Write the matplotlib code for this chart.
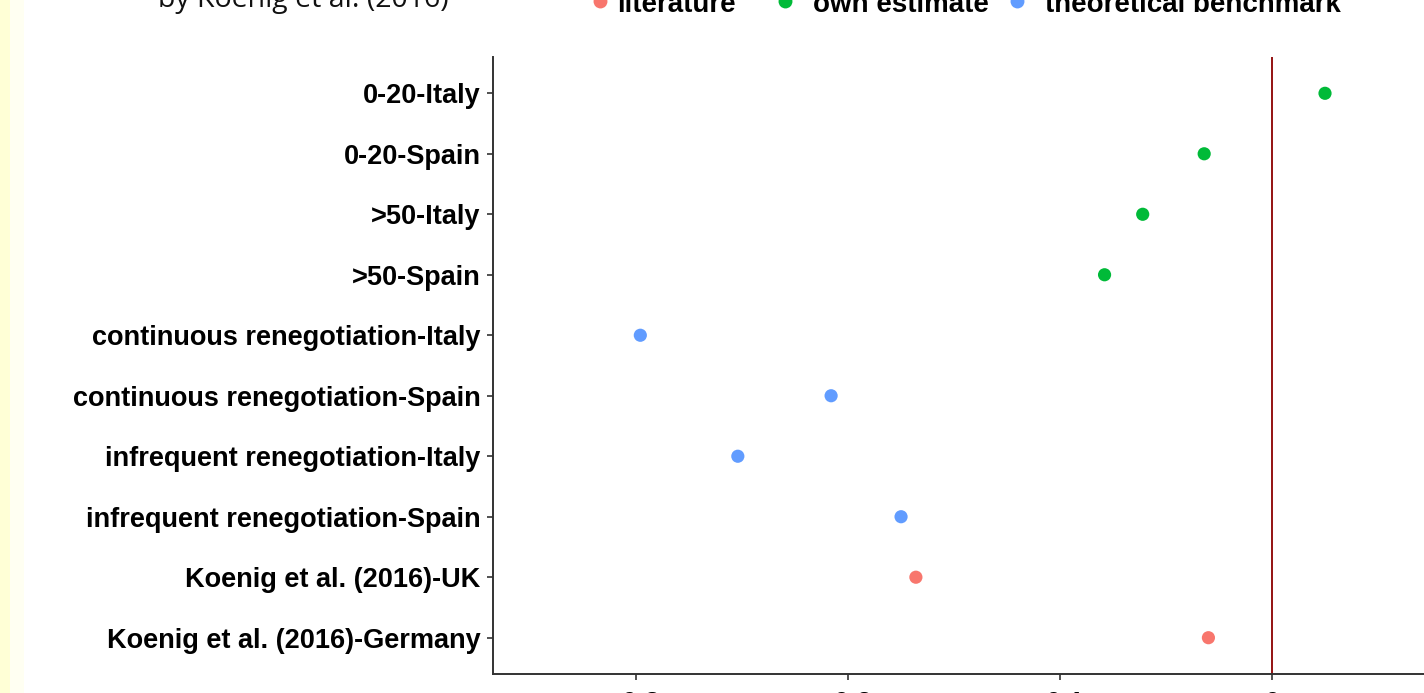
import matplotlib
matplotlib.use("Agg")
import matplotlib.pyplot as plt
from matplotlib.patches import Rectangle

categories = [
    "0-20-Italy",
    "0-20-Spain",
    ">50-Italy",
    ">50-Spain",
    "continuous renegotiation-Italy",
    "continuous renegotiation-Spain",
    "infrequent renegotiation-Italy",
    "infrequent renegotiation-Spain",
    "Koenig et al. (2016)-UK",
    "Koenig et al. (2016)-Germany",
]
values = [0.025, -0.032, -0.061, -0.079, -0.298, -0.208, -0.252, -0.175, -0.168, -0.030]
groups = ["own estimate", "own estimate", "own estimate", "own estimate",
          "theoretical benchmark", "theoretical benchmark",
          "theoretical benchmark", "theoretical benchmark",
          "literature", "literature"]
group_names = ["literature", "own estimate", "theoretical benchmark"]
group_colors = {"literature": "#F8766D", "own estimate": "#00BA38",
                "theoretical benchmark": "#619CFF"}
xticks = [-0.3, -0.2, -0.1, 0]
xticklabels = ["-0.3", "-0.2", "-0.1", "0"]

W, H = 1424, 693
fig = plt.figure(figsize=(W / 100, H / 100), dpi=100)
fig.patch.set_facecolor("white")

# left yellow strip
fig.patches.append(Rectangle((0, 0), 10 / W, 1, transform=fig.transFigure,
                             facecolor="#FFFFD6", edgecolor="none", zorder=0))
fig.patches.append(Rectangle((10 / W, 0), 14 / W, 1, transform=fig.transFigure,
                             facecolor="#FFFFF2", edgecolor="none", zorder=0))

ax_left, ax_right = 493, 1424
ax_top, ax_bot = 57, 674
ax = fig.add_axes([ax_left / W, 1 - ax_bot / H, (ax_right - ax_left) / W, (ax_bot - ax_top) / H])

ypos = list(range(len(categories)))
for y, v, g in zip(ypos, values, groups):
    ax.scatter(v, y, s=90, color=group_colors[g], edgecolors="none", zorder=3)

ax.axvline(0, color="#8B0000", lw=1.3, zorder=2)

ax.set_ylim(len(categories) - 1 + 0.6, -0.6)
ax.set_xlim(-0.3675, 0.0717)
ax.set_yticks(ypos)
ax.set_yticklabels(categories, fontfamily="Liberation Sans", fontweight="bold",
                   fontsize=19.5, color="black")
ax.set_xticks(xticks)
ax.set_xticklabels(xticklabels, fontfamily="Liberation Sans", fontweight="bold",
                   fontsize=19.5, color="black")
ax.tick_params(axis="both", length=4, width=1.2, color="#333333", pad=5)
ax.tick_params(axis="x", pad=8)

for s in ["top", "right"]:
    ax.spines[s].set_visible(False)
for s in ["left", "bottom"]:
    ax.spines[s].set_color("#333333")
    ax.spines[s].set_linewidth(1.4)

# title (cropped at top)
fig.text(158 / W, 1 - 7 / H, "by Koenig et al. (2016)", fontfamily="Open Sans",
         fontsize=20.5, color="#111111", va="baseline", ha="left")

# legend (cropped at top)
leg_x_dots = [600, 785, 1017]
leg_x_text = [617, 813, 1045]
for name, xd, xt in zip(group_names, leg_x_dots, leg_x_text):
    fig.add_artist(plt.Line2D([xd / W], [1 - 0.5 / H], transform=fig.transFigure,
                              marker="o", markersize=10, color=group_colors[name],
                              linestyle="none", markeredgewidth=0))
    fig.text(xt / W, 1 - 12 / H, name, fontfamily="Liberation Sans", fontweight="bold",
             fontsize=20, color="black", va="baseline", ha="left")

fig.savefig("out.png", dpi=100)
